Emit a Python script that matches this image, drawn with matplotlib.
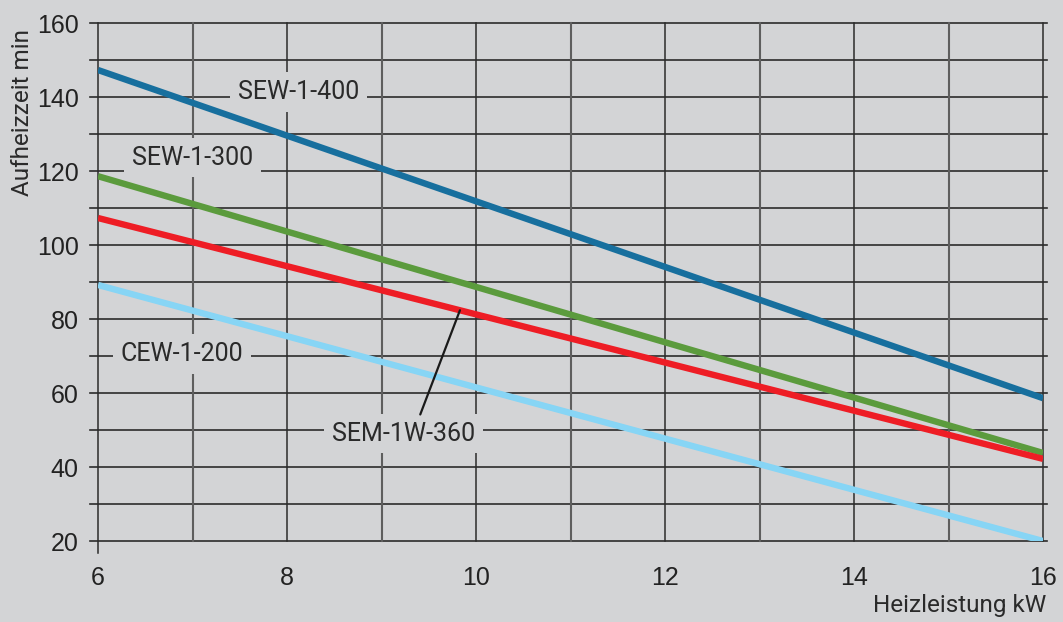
import matplotlib

matplotlib.use("Agg")
import matplotlib.pyplot as plt
import numpy as np

# Heizleistung (kW) at the ends of each line
heizleistung = [6, 16]

sew_1_400 = [147.3, 58.6]
sew_1_300 = [118.6, 43.8]
sem_1w_360 = [107.3, 42.2]
cew_1_200 = [89.2, 20.0]

x_ticks = [6, 8, 10, 12, 14, 16]
y_ticks = [20, 40, 60, 80, 100, 120, 140, 160]

BG = "#d3d4d6"
GRID = "#2b2b2b"
LABEL_FONT = ["Roboto", "DejaVu Sans"]
TICK_FONT = ["Liberation Sans", "DejaVu Sans"]

series = [
    ("SEW-1-400", sew_1_400, "#176f9e", (8.12, 141.4)),
    ("SEW-1-300", sew_1_300, "#5b9b3d", (7.0, 123.6)),
    ("SEM-1W-360", sem_1w_360, "#ee1d25", (9.23, 49.0)),
    ("CEW-1-200", cew_1_200, "#87d5f5", (6.89, 70.6)),
]

fig = plt.figure(figsize=(10.63, 6.22), dpi=100, facecolor=BG)
ax = fig.add_axes([0.0922, 0.1302, 0.889, 0.8328])
ax.set_facecolor(BG)
ax.set_xlim(6, 16)
ax.set_ylim(20, 160)
for s in ax.spines.values():
    s.set_visible(False)

# grid: horizontal lines poke out a little on both sides
ytr = ax.get_yaxis_transform()
for y in range(20, 161, 10):
    ax.plot([-0.0085, 1.004], [y, y], transform=ytr, color=GRID, lw=1.2,
            clip_on=False, zorder=1)
xtr = ax.get_xaxis_transform()
for x in range(6, 17):
    col = GRID if x % 2 == 0 else "#5e5e5e"
    lw = 1.1 if x % 2 == 0 else 1.5
    y0 = -0.023 if x == 6 else 0.0
    ax.plot([x, x], [y0, 1.0], transform=xtr, color=col, lw=lw,
            clip_on=False, zorder=1)

for name, vals, color, (tx, ty) in series:
    ax.plot(heizleistung, vals, color=color, lw=4.6, solid_capstyle="butt", zorder=3)
    ax.text(tx, ty, name, ha="center", va="center", fontsize=18,
            family=LABEL_FONT, color="#2a2a2a", zorder=4,
            bbox={"facecolor": BG, "edgecolor": "none", "pad": 5.5})

# leader line for SEM-1W-360
lx = 9.83
ly = np.interp(lx, heizleistung, sem_1w_360)
ax.annotate("", xy=(lx, ly), xytext=(9.41, 54.2),
            arrowprops={"arrowstyle": "-", "color": "#1a1a1a", "lw": 1.6,
                        "shrinkA": 0, "shrinkB": 0}, zorder=5)

ax.set_xticks(x_ticks)
ax.set_yticks(y_ticks)
ax.tick_params(length=0, labelsize=18, colors="#222222")
ax.tick_params(axis="y", pad=14)
ax.tick_params(axis="x", pad=18)
for lab in ax.get_xticklabels() + ax.get_yticklabels():
    lab.set_family(TICK_FONT)

fig.text(0.021, 0.953, "Aufheizzeit min", rotation=90, ha="center", va="top",
         fontsize=17.5, family=LABEL_FONT, color="#2a2a2a")
fig.text(0.984, 0.027, "Heizleistung kW", ha="right", va="center",
         fontsize=17.5, family=LABEL_FONT, color="#2a2a2a")

fig.savefig("out.png", dpi=100, facecolor=BG)
